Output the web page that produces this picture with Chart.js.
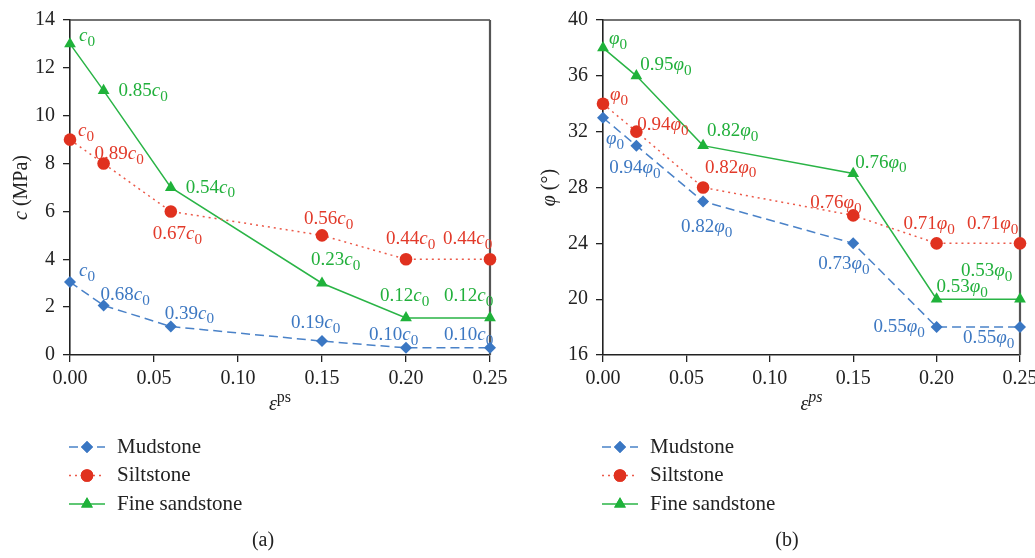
<!DOCTYPE html>
<html>
<head>
<meta charset="utf-8">
<script src="https://cdn.jsdelivr.net/npm/chart.js@4.4.1/dist/chart.umd.min.js"></script>
<style>
  body { margin: 0; background: #fff; width: 1035px; height: 558px; overflow: hidden; position: relative; }
  canvas { position: absolute; top: 0; }
  #chartA { left: 0; }
  #chartB { left: 517px; }
  .cap { position: absolute; top: 528px; width: 60px; text-align: center; font: 20px "Liberation Serif", serif; color: #222; }
</style>
</head>
<body>
<canvas id="chartA" width="517" height="558"></canvas>
<canvas id="chartB" width="540" height="558"></canvas>
<div class="cap" style="left:233px">(a)</div>
<div class="cap" style="left:757px">(b)</div>

<script>
//Data_
const strain = [0, 0.02, 0.06, 0.15, 0.20, 0.25];

const cMudstone = [3.05, 2.07, 1.19, 0.58, 0.3, 0.3];
const cSiltstone = [9, 8, 6, 5, 4, 4];
const cSandstone = [13, 11.05, 7.0, 3.0, 1.55, 1.55];

const phiMudstone = [33, 31, 27, 24, 18, 18];
const phiSiltstone = [34, 32, 28, 26, 24, 24];
const phiSandstone = [38, 36, 31, 29, 20, 20];

// ratio to the initial value, written next to each point
const cMudRatio = ['', '0.68', '0.39', '0.19', '0.10', '0.10'];
const cSiltRatio = ['', '0.89', '0.67', '0.56', '0.44', '0.44'];
const cSandRatio = ['', '0.85', '0.54', '0.23', '0.12', '0.12'];
const phiMudRatio = ['', '0.94', '0.82', '0.73', '0.55', '0.55'];
const phiSiltRatio = ['', '0.94', '0.82', '0.76', '0.71', '0.71'];
const phiSandRatio = ['', '0.95', '0.82', '0.76', '0.53', '0.53'];

const seriesNames = ['Mudstone', 'Siltstone', 'Fine sandstone'];

//Label placement (px from the point: left edge, baseline)
const cMudOff = [[9, -6], [-3, -5], [-6, -8], [-31, -13], [-37, -8], [-46, -8]];
const cSiltOff = [[8, -4], [-9, -5], [-18, 28], [-18, -11], [-20, -15], [-47, -15]];
const cSandOff = [[9, -3], [15, 5], [15, 5], [-11, -18], [-26, -17], [-46, -17]];
const phiMudOff = [[3, 26], [-27, 27], [-22, 31], [-35, 26], [-63, 5], [-57, 16]];
const phiSiltOff = [[7, -4], [1, -2], [2, -15], [-43, -7], [-33, -14], [-53, -14]];
const phiSandOff = [[6, -4], [4, -6], [4, -10], [2, -6], [0, -7], [-59, -23]];

//Styles_
const serif = '"Liberation Serif", "Times New Roman", serif';
const ink = '#222';
const blue = '#3a77c3', red = '#e0311f', green = '#1fb23a';

const styles = [
    { line: '#4a82c8', dash: [9, 5], point: 'rectRot', radius: 6, fill: blue, text: '#3d78c2' },
    { line: '#ec5a4a', dash: [2, 4], point: 'circle', radius: 6.3, fill: red, text: '#e23a2a' },
    { line: '#2ab446', dash: [], point: 'triangle', radius: 6.8, fill: green, text: '#22b03c' }
];

//Functions_
function setFont(ctx, size, italic) {
    ctx.font = (italic ? 'italic ' : '') + size + 'px ' + serif;
}

// parts: [text, kind]  kind: 'n' plain, 'i' italic, 'b' subscript, 'p' superscript, 'q' italic superscript
function partSize(kind, size) {
    return (kind === 'b' || kind === 'p' || kind === 'q') ? size * 0.8 : size;
}

function richWidth(ctx, parts, size) {
    let w = 0;
    parts.forEach(([t, k]) => {
        setFont(ctx, partSize(k, size), k === 'i' || k === 'q');
        w += ctx.measureText(t).width;
    });
    return w;
}

function drawRich(ctx, parts, x, y, size, color, center) {
    if (center) x -= richWidth(ctx, parts, size) / 2;
    ctx.fillStyle = color;
    ctx.textAlign = 'left';
    ctx.textBaseline = 'alphabetic';
    parts.forEach(([t, k]) => {
        setFont(ctx, partSize(k, size), k === 'i' || k === 'q');
        let dy = 0;
        if (k === 'b') dy = size * 0.26;
        if (k === 'p' || k === 'q') dy = -size * 0.42;
        ctx.fillText(t, x, y + dy);
        x += ctx.measureText(t).width;
    });
}

function ratioLabel(ratio, sym) {
    const parts = [];
    if (ratio) parts.push([ratio, 'n']);
    parts.push([sym, 'i'], ['0', 'b']);
    return parts;
}

const decorPlugin = {
    id: 'decor',
    beforeDatasetsDraw(chart) {
        // top and right edges of the frame
        const { ctx, chartArea: a } = chart;
        ctx.save();
        ctx.strokeStyle = '#444';
        ctx.lineWidth = 1.5;
        ctx.beginPath();
        ctx.moveTo(a.left, a.top);
        ctx.lineTo(a.right, a.top);
        ctx.stroke();
        ctx.strokeStyle = '#555';
        ctx.lineWidth = 2.2;
        ctx.beginPath();
        ctx.moveTo(a.right, a.top);
        ctx.lineTo(a.right, a.bottom);
        ctx.stroke();
        ctx.restore();
    },
    afterDatasetsDraw(chart) {
        const { ctx, chartArea: a } = chart;
        const extra = chart.options.plugins.decor;
        ctx.save();

        // point labels
        chart.data.datasets.forEach((ds, di) => {
            const meta = chart.getDatasetMeta(di);
            meta.data.forEach((pt, i) => {
                const off = extra.offsets[di][i];
                drawRich(ctx, ratioLabel(extra.ratios[di][i], extra.symbol),
                    pt.x + off[0], pt.y + off[1], 19, styles[di].text, false);
            });
        });

        // axis titles
        drawRich(ctx, extra.xTitle, (a.left + a.right) / 2, a.bottom + 55, 20, ink, true);
        ctx.save();
        ctx.translate(a.left + extra.yTitleDx, (a.top + a.bottom) / 2);
        ctx.rotate(-Math.PI / 2);
        drawRich(ctx, extra.yTitle, 0, 7, 20, ink, true);
        ctx.restore();

        // legend under the plot
        chart.data.datasets.forEach((ds, di) => {
            const y = a.bottom + 92 + di * 28.5;
            const x0 = a.left - 1;
            const st = styles[di];
            ctx.strokeStyle = st.line;
            ctx.lineWidth = 1.5;
            ctx.setLineDash(st.dash);
            ctx.beginPath();
            ctx.moveTo(x0, y);
            ctx.lineTo(x0 + 36, y);
            ctx.stroke();
            ctx.setLineDash([]);
            ctx.fillStyle = st.fill;
            Chart.helpers.drawPoint(ctx, {
                pointStyle: st.point, radius: st.radius, rotation: 0, borderWidth: 0
            }, x0 + 18, y);
            ctx.fill();
            setFont(ctx, 21, false);
            ctx.fillStyle = ink;
            ctx.textBaseline = 'middle';
            ctx.fillText(ds.label, x0 + 48, y);
        });
        ctx.restore();
    }
};

function makeDatasets(values) {
    return values.map((vals, i) => ({
        label: seriesNames[i],
        data: strain.map((x, j) => ({ x: x, y: vals[j] })),
        borderColor: styles[i].line,
        borderDash: styles[i].dash,
        borderWidth: 1.5,
        pointStyle: styles[i].point,
        pointRadius: styles[i].radius,
        pointBackgroundColor: styles[i].fill,
        pointBorderWidth: 0,
        tension: 0,
        clip: false
    }));
}

function axisStyle(extra) {
    return Object.assign({
        grid: { drawOnChartArea: false, tickLength: 7, color: ink, lineWidth: 1.3 },
        border: { color: ink, width: 1.6 }
    }, extra);
}

function makeChart(canvas, values, yMin, yMax, yStep, yWidth, padRight, decor) {
    const tickFont = { family: serif, size: 20 };
    return new Chart(canvas, {
        type: 'line',
        data: { datasets: makeDatasets(values) },
        options: {
            responsive: false,
            animation: false,
            layout: { padding: { top: 11, right: padRight, left: 0, bottom: 0 } },
            plugins: { legend: { display: false }, tooltip: { enabled: false }, decor: decor },
            scales: {
                x: axisStyle({
                    type: 'linear', min: 0, max: 0.25,
                    afterFit: (s) => { s.height = 203; },
                    ticks: { stepSize: 0.05, autoSkip: false, maxRotation: 0, padding: 5,
                        font: tickFont, color: ink, callback: (v) => v.toFixed(2) }
                }),
                y: axisStyle({
                    min: yMin, max: yMax,
                    afterFit: (s) => { s.width = yWidth; },
                    ticks: { stepSize: yStep, padding: 8, font: tickFont, color: ink }
                })
            }
        },
        plugins: [decorPlugin]
    });
}

//Charts_
makeChart(document.getElementById('chartA'),
    [cMudstone, cSiltstone, cSandstone], 0, 14, 2, 70, 27, {
        symbol: 'c',
        ratios: [cMudRatio, cSiltRatio, cSandRatio],
        offsets: [cMudOff, cSiltOff, cSandOff],
        xTitle: [['\u03b5', 'i'], ['ps', 'p']],
        yTitle: [['c', 'i'], [' (MPa)', 'n']],
        yTitleDx: -50
    });

makeChart(document.getElementById('chartB'),
    [phiMudstone, phiSiltstone, phiSandstone], 16, 40, 4, 86, 37, {
        symbol: '\u03c6',
        ratios: [phiMudRatio, phiSiltRatio, phiSandRatio],
        offsets: [phiMudOff, phiSiltOff, phiSandOff],
        xTitle: [['\u03b5', 'i'], ['ps', 'q']],
        yTitle: [['\u03c6', 'i'], [' (\u00b0)', 'n']],
        yTitleDx: -55
    });
</script>
</body>
</html>
